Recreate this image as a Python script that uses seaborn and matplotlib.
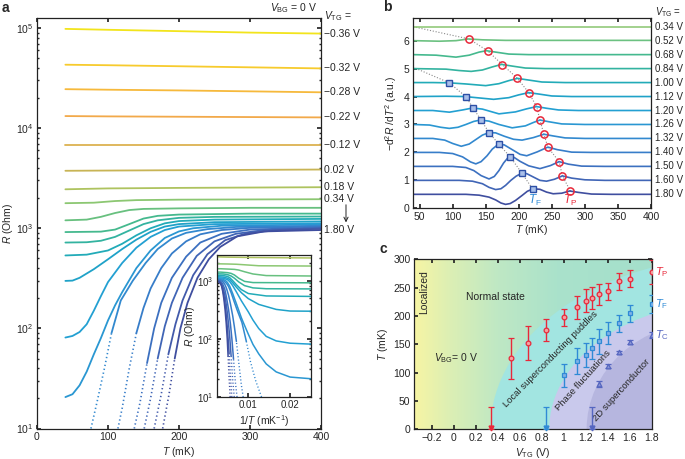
"""Three-panel figure: R(T) curves, -d2R/dT2 traces and the V_TG-T phase diagram."""

import matplotlib.pyplot as plt
import numpy as np
import pandas as pd
import seaborn as sns
from matplotlib.colors import LinearSegmentedColormap
from matplotlib.patches import Ellipse

sns.set_theme(style="ticks")
plt.rcParams["font.family"] = ["Liberation Sans", "DejaVu Sans"]
plt.rcParams.update({
    "mathtext.fontset": "custom",
    "mathtext.rm": "Liberation Sans",
    "mathtext.it": "Liberation Sans:italic",
    "mathtext.bf": "Liberation Sans:bold",
    "font.size": 7.5,
    "axes.labelsize": 7.5,
    "xtick.labelsize": 7.5,
    "ytick.labelsize": 7.5,
    "axes.linewidth": 0.9,
    "axes.edgecolor": "#222222",
    "xtick.direction": "in",
    "ytick.direction": "in",
    "xtick.major.size": 3,
    "ytick.major.size": 3,
    "xtick.minor.size": 1.6,
    "ytick.minor.size": 1.6,
    "xtick.major.pad": 2.5,
    "ytick.major.pad": 2.5,
    "axes.labelpad": 2,
})

# ---- panel a: R(T) for each top-gate voltage (T in mK, R in Ohm) ----
t_flat = [40, 100, 200, 300, 400]
r_m036 = [9.8e4, 9.6e4, 9.3e4, 9.0e4, 8.8e4]
r_m032 = [4.3e4, 4.25e4, 4.15e4, 4.05e4, 3.95e4]
r_m028 = [2.45e4, 2.42e4, 2.38e4, 2.33e4, 2.28e4]
r_m022 = [1.32e4, 1.31e4, 1.30e4, 1.29e4, 1.28e4]
r_m012 = [6.8e3, 6.8e3, 6.8e3, 6.8e3, 6.8e3]
r_p002 = [3.75e3, 3.77e3, 3.8e3, 3.83e3, 3.86e3]
r_p018 = [2.45e3, 2.5e3, 2.53e3, 2.55e3, 2.57e3]
t_p034 = [40, 80, 110, 140, 200, 300, 400]
r_p034 = [1.78e3, 1.8e3, 1.87e3, 1.91e3, 1.93e3, 1.94e3, 1.95e3]
t_p052 = [40, 70, 90, 110, 130, 150, 200, 300, 400]
r_p052 = [1.2e3, 1.22e3, 1.3e3, 1.42e3, 1.52e3, 1.56e3, 1.58e3, 1.6e3, 1.6e3]
t_p068 = [40, 90, 110, 130, 150, 170, 200, 300, 400]
r_p068 = [916, 925, 970, 1.1e3, 1.25e3, 1.33e3, 1.37e3, 1.4e3, 1.4e3]
t_p084 = [40, 70, 90, 110, 130, 150, 170, 200, 250, 400]
r_p084 = [720, 725, 750, 820, 950, 1.1e3, 1.2e3, 1.27e3, 1.3e3, 1.31e3]
t_p100 = [40, 70, 100, 120, 140, 160, 180, 200, 250, 400]
r_p100 = [535, 545, 600, 700, 850, 1.0e3, 1.12e3, 1.18e3, 1.22e3, 1.24e3]
t_p112 = [40, 50, 60, 80, 100, 120, 140, 160, 180, 200, 250, 400]
r_p112 = [298, 300, 320, 390, 490, 620, 770, 920, 1.04e3, 1.1e3, 1.15e3, 1.17e3]
t_p120 = [40, 50, 60, 70, 80, 90, 100, 120, 140, 160, 180, 200, 250, 400]
r_p120 = [81, 84, 92, 110, 150, 210, 290, 450, 640, 820, 960, 1.04e3, 1.1e3, 1.12e3]
t_p126 = [40, 50, 60, 70, 80, 90, 100, 110, 120, 140, 160, 180, 200, 220, 260, 400]
r_p126 = [20.6, 22, 27, 37, 55, 80, 120, 170, 230, 400, 600, 800, 930, 1.0e3, 1.06e3, 1.09e3]
t_p132 = [76, 85, 95, 105, 118, 135, 153, 170, 190, 210, 240, 280, 400]
r_p132 = [10, 19, 40, 90, 190, 300, 450, 620, 790, 900, 980, 1.03e3, 1.06e3]
t_p140 = [114, 120, 130, 140, 150, 160, 175, 190, 210, 230, 260, 300, 400]
r_p140 = [10, 16, 40, 90, 160, 250, 400, 560, 740, 870, 960, 1.01e3, 1.04e3]
t_p150 = [137, 145, 155, 165, 175, 190, 210, 230, 260, 300, 400]
r_p150 = [10, 18, 45, 100, 180, 320, 520, 720, 880, 970, 1.02e3]
t_p160 = [151, 160, 170, 180, 190, 205, 225, 250, 280, 320, 400]
r_p160 = [10, 20, 50, 105, 180, 320, 530, 740, 880, 960, 1.0e3]
t_p170 = [165, 175, 185, 195, 205, 220, 240, 265, 295, 340, 400]
r_p170 = [10, 22, 55, 110, 190, 340, 550, 760, 890, 960, 990]
t_p180 = [177, 186, 194, 202, 212, 226, 242, 258, 282, 320, 400]
r_p180 = [10, 22, 50, 100, 180, 320, 490, 650, 830, 930, 960]
labels_a = ["-0.36", "-0.32", "-0.28", "-0.22", "-0.12", "0.02", "0.18", "0.34"]

# ---- panel b: -d2R/dT2 traces (signal relative to each trace's baseline) ----
vtg_b = ["0.34", "0.52", "0.68", "0.84", "1.00", "1.12", "1.20",
         "1.26", "1.32", "1.40", "1.50", "1.60", "1.80"]
tb_034 = [40, 400]
db_034 = [0, 0]
tb_052 = [40, 80, 105, 124, 145, 180, 400]
db_052 = [0, -0.02, 0.0, 0.06, 0.03, 0.01, 0.01]
tb_068 = [40, 75, 105, 125, 140, 151, 165, 185, 215, 400]
db_068 = [0, -0.02, -0.09, -0.02, 0.09, 0.14, 0.09, 0.02, 0, 0]
tb_084 = [40, 90, 110, 128, 145, 160, 174, 190, 210, 240, 400]
db_084 = [0, -0.02, -0.07, -0.1, -0.05, 0.06, 0.15, 0.09, 0.02, 0, 0]
tb_100 = [40, 70, 95, 120, 150, 170, 185, 198, 212, 235, 270, 400]
db_100 = [0, 0, -0.01, -0.05, -0.11, -0.04, 0.07, 0.15, 0.1, 0.02, 0, 0]
tb_112 = [40, 90, 118, 140, 162, 185, 200, 215, 230, 250, 280, 400]
db_112 = [0, 0.01, 0.0, -0.05, -0.1, -0.04, 0.06, 0.14, 0.09, 0.02, 0, 0]
tb_120 = [40, 70, 95, 115, 130, 145, 170, 195, 212, 227, 242, 260, 290, 400]
db_120 = [0, 0, -0.06, 0.02, 0.09, 0.05, -0.12, -0.05, 0.06, 0.14, 0.08, 0.02, 0, 0]
tb_126 = [40, 65, 82, 95, 108, 120, 132, 142, 155, 170, 190, 210, 222, 232, 245, 265, 300, 400]
db_126 = [0, -0.02, -0.1, -0.14, -0.1, 0.0, 0.11, 0.16, 0.12, 0.0, -0.12, -0.05, 0.07, 0.16,
          0.1, 0.02, 0, 0]
tb_132 = [40, 70, 88, 100, 113, 125, 135, 145, 155, 165, 178, 192, 205, 222, 238, 252, 270, 300, 400]
db_132 = [0, 0, -0.06, -0.18, -0.28, -0.2, -0.04, 0.12, 0.21, 0.2, 0.08, -0.03, -0.06, 0.03,
          0.15, 0.09, 0.02, 0, 0]
tb_140 = [40, 80, 100, 115, 127, 135, 143, 152, 160, 169, 178, 190, 202, 212, 228, 244, 258, 280,
          310, 400]
db_140 = [0, 0, -0.04, -0.16, -0.34, -0.41, -0.33, -0.12, 0.12, 0.29, 0.27, 0.1, -0.07, -0.12,
          0.02, 0.19, 0.1, 0.01, 0, 0]
tb_150 = [40, 100, 120, 132, 143, 155, 163, 170, 177, 185, 193, 202, 215, 232, 248, 261, 275, 295,
          330, 400]
db_150 = [0, 0, -0.04, -0.15, -0.33, -0.45, -0.36, -0.15, 0.12, 0.35, 0.32, 0.18, 0.02, -0.08,
          0.03, 0.17, 0.08, 0.01, 0, 0]
tb_160 = [40, 110, 130, 145, 155, 165, 173, 180, 188, 196, 204, 212, 222, 232, 242, 254, 266, 280,
          300, 330, 400]
db_160 = [0, 0, -0.03, -0.12, -0.25, -0.33, -0.3, -0.18, 0.0, 0.15, 0.25, 0.24, 0.12, 0.0, -0.03,
          0.04, 0.16, 0.08, 0.02, 0, 0]
tb_180 = [40, 120, 140, 155, 165, 173, 180, 187, 195, 205, 213, 222, 232, 242, 252, 265, 277, 290,
          310, 340, 400]
db_180 = [0, 0, -0.03, -0.1, -0.2, -0.31, -0.36, -0.33, -0.22, -0.04, 0.11, 0.2, 0.18, 0.08, 0.02,
          0.04, 0.12, 0.07, 0.01, 0, 0]
guide_p_start = (40, 6.5)
guide_f_start = (40, 5.05)

# ---- panel c: characteristic temperatures vs V_TG ----
vtg_p = [0.52, 0.68, 0.84, 1.00, 1.12, 1.20, 1.26, 1.32, 1.40, 1.50, 1.60, 1.80]
t_p = [125, 153, 175, 198, 215, 227, 232, 238, 244, 261, 266, 278]
t_p_err = [36, 30, 20, 15, 20, 20, 19, 18, 15, 15, 15, 21]
vtg_f = [1.00, 1.12, 1.20, 1.26, 1.32, 1.40, 1.50, 1.60, 1.80]
t_f = [95, 120, 131, 143, 155, 170, 187, 205, 221]
t_f_err = [21, 23, 21, 19, 22, 19, 15, 15, 16]
vtg_c = [1.32, 1.40, 1.50, 1.60, 1.80]
t_c = [80, 112, 136, 154, 166]
t_c_err = [5, 4, 3, 3, 5]
# upper bounds (arrows): V_TG where the feature is below the lowest temperature
bound_p, bound_f, bound_c = 0.34, 0.84, 1.26
bound_t = 40

# ---- colours ----
colors_a = ["#f2e41c", "#f7cb2d", "#f6b93c", "#f2a94a", "#dcb251", "#c8b455", "#aec35f",
            "#8cc772", "#68c07f", "#45b98e", "#33b3a0", "#22abb8", "#1fa2c8", "#23a0d2",
            "#2a97d2", "#3289cf", "#377dc9", "#3c70c0", "#4065b6", "#425aab", "#3f4e9f"]
colors_b = ["#92c97a", "#6cc181", "#45b98e", "#33b3a0", "#22abb8", "#1fa2c8", "#23a0d2",
            "#2a97d2", "#3289cf", "#377dc9", "#3c70c0", "#4065b6", "#3f4e9f"]
RED, BLUE, INDIGO = "#e8283a", "#2f8ad6", "#5566c0"


def box(left, top, right, bottom, w=685, h=459):
    return [left / w, 1 - bottom / h, (right - left) / w, (bottom - top) / h]


fig = plt.figure(figsize=(6.85, 4.59), dpi=100)
ax_a = fig.add_axes(box(37, 18, 321, 428.5))
ax_in = fig.add_axes(box(217, 255, 311, 397))
ax_b = fig.add_axes(box(413, 18.3, 651, 208.3))
ax_c = fig.add_axes(box(414, 259.3, 651.5, 429.3))

# ================= panel a =================
curves_a = [
    ("-0.36", t_flat, r_m036), ("-0.32", t_flat, r_m032), ("-0.28", t_flat, r_m028),
    ("-0.22", t_flat, r_m022), ("-0.12", t_flat, r_m012), ("0.02", t_flat, r_p002),
    ("0.18", t_flat, r_p018), ("0.34", t_p034, r_p034), ("0.52", t_p052, r_p052),
    ("0.68", t_p068, r_p068), ("0.84", t_p084, r_p084), ("1.00", t_p100, r_p100),
    ("1.12", t_p112, r_p112), ("1.20", t_p120, r_p120), ("1.26", t_p126, r_p126),
    ("1.32", t_p132, r_p132), ("1.40", t_p140, r_p140), ("1.50", t_p150, r_p150),
    ("1.60", t_p160, r_p160), ("1.70", t_p170, r_p170), ("1.80", t_p180, r_p180),
]
palette_a = {name: col for (name, _, _), col in zip(curves_a, colors_a)}

rows, dotted = [], []
for name, t, r in curves_a:
    t, r = np.asarray(t, float), np.asarray(r, float)
    k = int(np.sum(r < 45)) if t[0] > 40 else 0
    if k:
        dotted.append((name, t[:k + 1], r[:k + 1]))
    rows += [(name, ti, ri) for ti, ri in zip(t[k:], r[k:])]
df_a = pd.DataFrame(rows, columns=["curve", "T", "R"])
df_a["invT"] = 1.0 / df_a["T"]

sns.lineplot(data=df_a, x="T", y="R", hue="curve", palette=palette_a, estimator=None,
             sort=False, legend=False, lw=1.3, ax=ax_a)
for name, t, r in dotted:
    ax_a.plot(t, r, color=palette_a[name], lw=1.2, ls=(0, (0.8, 1.6)))
ax_a.set_yscale("log")
ax_a.set_xlim(0, 400)
ax_a.set_ylim(10, 10 ** 5.1)
ax_a.set_xticks([0, 100, 200, 300, 400])
ax_a.tick_params(which="both", top=True, right=True)
ax_a.set_xlabel(r"$\mathit{T}$ (mK)")
ax_a.set_ylabel(r"$\mathit{R}$ (Ohm)", labelpad=1)

for name, t, r in curves_a:
    if name in labels_a:
        ax_a.text(404, r[-1], name.replace("-", "\u2212") + " V", va="center", ha="left",
                  fontsize=7.5)
ax_a.text(404, r_p180[-1], "1.80 V", va="center", ha="left", fontsize=7.5)
ax_a.annotate("", xy=(1.088, 0.502), xytext=(1.088, 0.545), xycoords="axes fraction",
              arrowprops=dict(arrowstyle="->", lw=0.7, color="#222222", shrinkA=0, shrinkB=0))
ax_a.text(1.012, 1.005, r"$\mathit{V}_\mathrm{TG}$ =", transform=ax_a.transAxes, ha="left",
          va="center", fontsize=7.5)
ax_a.text(0.905, 1.025, r"$\mathit{V}_\mathrm{BG}$ = 0 V", transform=ax_a.transAxes,
          ha="center", va="center", fontsize=7.5)

# inset: same data against 1/T
inset_names = [n for n, _, _ in curves_a[6:]]
sns.lineplot(data=df_a[df_a["curve"].isin(inset_names)], x="invT", y="R", hue="curve",
             palette=palette_a, estimator=None, sort=False, legend=False, lw=1.1, ax=ax_in)
for name, t, r in dotted:
    ax_in.plot(1.0 / t, r, color=palette_a[name], lw=1.0, ls=(0, (0.8, 1.6)))
ax_in.set_yscale("log")
ax_in.set_xlim(0.0025, 0.025)
ax_in.set_ylim(10, 10 ** 3.44)
ax_in.set_xticks([0.01, 0.02])
ax_in.set_xticklabels(["0.01", "0.02"])
ax_in.tick_params(which="both", top=True, right=True, labelsize=7)
ax_in.set_xlabel(r"1/$\mathit{T}$ (mK$^{-1}$)", fontsize=7.5)
ax_in.set_ylabel(r"$\mathit{R}$ (Ohm)", fontsize=7.5, labelpad=0)
ax_in.set_facecolor("white")

# ================= panel b =================
curves_b = [(tb_034, db_034), (tb_052, db_052), (tb_068, db_068), (tb_084, db_084),
            (tb_100, db_100), (tb_112, db_112), (tb_120, db_120), (tb_126, db_126),
            (tb_132, db_132), (tb_140, db_140), (tb_150, db_150), (tb_160, db_160),
            (tb_180, db_180)]
offsets = {v: 0.5 * (len(vtg_b) - i) for i, v in enumerate(vtg_b)}
rows_b = []
for v, (t, d) in zip(vtg_b, curves_b):
    rows_b += [(v, ti, offsets[v] + di) for ti, di in zip(t, d)]
df_b = pd.DataFrame(rows_b, columns=["vtg", "T", "signal"])
sns.lineplot(data=df_b, x="T", y="signal", hue="vtg", palette=dict(zip(vtg_b, colors_b)),
             estimator=None, sort=False, legend=False, lw=1.2, ax=ax_b)

curve_of = dict(zip(vtg_b, curves_b))
circ_x, circ_y = [], []
for v, tp in zip(vtg_p, t_p):
    key = f"{v:.2f}"
    t, d = curve_of[key]
    circ_x.append(tp)
    circ_y.append(offsets[key] + np.interp(tp, t, d))
sq_x, sq_y = [], []
for v, tf in zip(vtg_f, t_f):
    key = f"{v:.2f}"
    t, d = curve_of[key]
    sq_x.append(tf)
    sq_y.append(offsets[key] + np.interp(tf, t, d))

ax_b.plot([guide_p_start[0]] + circ_x, [guide_p_start[1]] + circ_y, color="#8a8a8a", lw=0.8,
          ls=(0, (1, 1.6)), zorder=1)
ax_b.plot([guide_f_start[0]] + sq_x, [guide_f_start[1]] + sq_y, color="#8a8a8a", lw=0.8,
          ls=(0, (1, 1.6)), zorder=1)
ax_b.plot(circ_x, circ_y, "o", ms=5.2, mfc="none", mec=RED, mew=1.1, zorder=5)
ax_b.plot(sq_x, sq_y, "s", ms=4.8, mfc="#a9bfe9", mec="#2d4fa6", mew=1.0, zorder=5)
ax_b.text(224, 0.28, r"$\mathit{T}_\mathrm{F}$", color=BLUE, fontsize=8.5, ha="center",
          va="center")
ax_b.text(277, 0.28, r"$\mathit{T}_\mathrm{P}$", color=RED, fontsize=8.5, ha="center",
          va="center")

ax_b.set_xlim(40, 400)
ax_b.set_ylim(0, 6.8)
ax_b.set_xticks(range(50, 401, 50))
ax_b.set_yticks(range(0, 7))
ax_b.tick_params(top=True, right=False)
ax_b.set_xlabel(r"$\mathit{T}$ (mK)", labelpad=1)
ax_b.set_ylabel(r"$-\mathrm{d}^2\mathit{R}\ /\mathrm{d}\mathit{T}^2$ (a.u.)", labelpad=3)
for v in vtg_b:
    ax_b.text(1.017, offsets[v], f"{v} V", transform=ax_b.get_yaxis_transform(), ha="left",
              va="center", fontsize=7)
ax_b.text(1.017, 1.035, r"$\mathit{V}_\mathrm{TG}$ =", transform=ax_b.transAxes, ha="left",
          va="center", fontsize=7)

# ================= panel c =================
bg = LinearSegmentedColormap.from_list(
    "bg", [(0, "#f7f5a4"), (0.15, "#dcefb4"), (0.35, "#bfe8c4"), (0.6, "#aae2cb"),
           (1.0, "#a4dfcc")])
ax_c.imshow(np.linspace(0, 1, 256)[None, :], cmap=bg, aspect="auto",
            extent=[-0.36, 1.8, 0, 300], zorder=0)
ax_c.add_patch(Ellipse((2.6, 0), 4.53, 610, color="#a2e5e1", zorder=1, lw=0))
ax_c.add_patch(Ellipse((2.5, 0), 3.26, 450, color="#c9c9ec", zorder=1, lw=0))
ax_c.add_patch(Ellipse((2.3, 0), 2.18, 380, color="#b6b6df", zorder=1, lw=0))

ax_c.errorbar(vtg_p, t_p, yerr=t_p_err, fmt="o", ms=3.4, mfc="#f4a0a0", mec=RED, mew=0.9,
              ecolor=RED, elinewidth=1.0, capsize=2, capthick=0.9, zorder=4)
ax_c.errorbar(vtg_f, t_f, yerr=t_f_err, fmt="s", ms=3.2, mfc="#7fb2e6", mec=BLUE, mew=0.9,
              ecolor=BLUE, elinewidth=1.0, capsize=2, capthick=0.9, zorder=4)
ax_c.errorbar(vtg_c, t_c, yerr=t_c_err, fmt="^", ms=3.4, mfc="#8a94d6", mec=INDIGO, mew=0.9,
              ecolor=INDIGO, elinewidth=1.0, capsize=2, capthick=0.9, zorder=4)
for xb, col in [(bound_p, RED), (bound_f, BLUE), (bound_c, INDIGO)]:
    ax_c.errorbar([xb], [bound_t], yerr=[[bound_t], [0]], fmt="none", ecolor=col,
                  elinewidth=1.0, capsize=2, capthick=0.9, zorder=4)
    ax_c.plot([xb], [3], "v", ms=3.5, color=col, zorder=5, clip_on=False)

ax_c.text(-0.27, 243, "Localized", rotation=90, ha="center", va="center", fontsize=7.5)
ax_c.text(0.38, 234, "Normal state", ha="center", va="center", fontsize=7.5)
ax_c.text(0.02, 125, r"$\mathit{V}_\mathrm{BG}$= 0 V", ha="center", va="center", fontsize=7.5)
ax_c.text(0.885, 124, "Local superconducting puddles", rotation=45.5, ha="center",
          va="center", fontsize=6.8)
ax_c.text(1.18, 87, "Phase fluctuations", rotation=48, ha="center", va="center", fontsize=6.8)
ax_c.text(1.53, 69, "2D superconductor", rotation=48, ha="center", va="center", fontsize=6.8)
ax_c.text(1.015, 278, r"$\mathit{T}_\mathrm{P}$", color=RED, fontsize=8,
          transform=ax_c.get_yaxis_transform(), ha="left", va="center")
ax_c.text(1.015, 221, r"$\mathit{T}_\mathrm{F}$", color=BLUE, fontsize=8,
          transform=ax_c.get_yaxis_transform(), ha="left", va="center")
ax_c.text(1.015, 166, r"$\mathit{T}_\mathrm{C}$", color=INDIGO, fontsize=8,
          transform=ax_c.get_yaxis_transform(), ha="left", va="center")

ax_c.set_xlim(-0.36, 1.8)
ax_c.set_ylim(0, 300)
ax_c.set_xticks(np.round(np.arange(-0.2, 1.81, 0.2), 1))
ax_c.set_xticklabels(["\u22120.2", "0", "0.2", "0.4", "0.6", "0.8", "1", "1.2", "1.4", "1.6",
                      "1.8"])
ax_c.set_yticks(range(0, 301, 50))
ax_c.tick_params(top=True, right=True)
ax_c.set_xlabel(r"$\mathit{V}_\mathrm{TG}$ (V)")
ax_c.set_ylabel(r"$\mathit{T}$ (mK)", labelpad=2)

fig.text(2 / 685, 1 - 8 / 459, "a", fontsize=10, fontweight="bold", va="center")
fig.text(383 / 685, 1 - 7 / 459, "b", fontsize=10, fontweight="bold", va="center")
fig.text(380 / 685, 1 - 249 / 459, "c", fontsize=10, fontweight="bold", va="center")

fig.savefig("out.png", dpi=100)
